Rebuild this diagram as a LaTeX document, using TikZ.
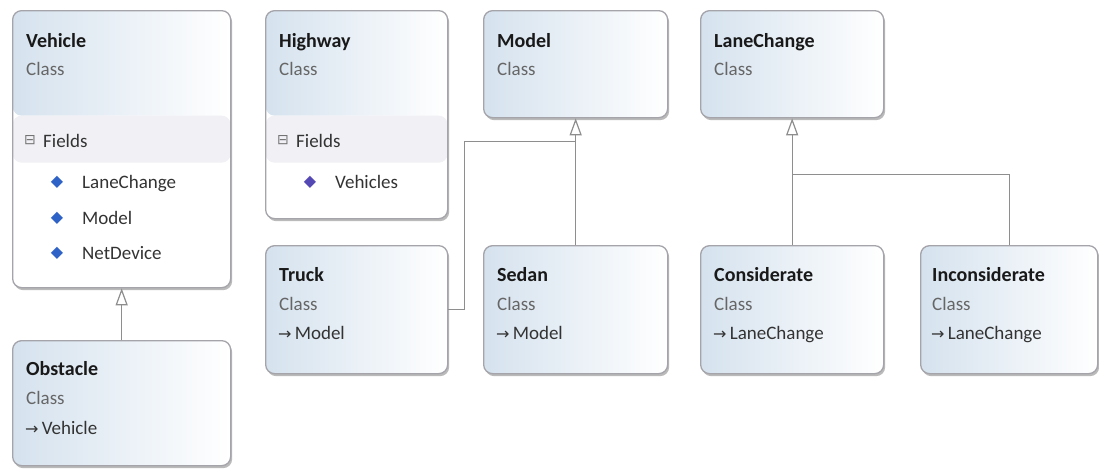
\documentclass[tikz,border=0pt]{standalone}
\usepackage{fontspec}
\setmainfont{Carlito}
\newfontfamily\symfont{DejaVu Sans}
\usepackage{xcolor}
\usepackage{tikz}
\usetikzlibrary{calc,arrows.meta,shadows}

\definecolor{boxline}{HTML}{A4A4AA}
\definecolor{hdrblue}{HTML}{D5E2EE}
\definecolor{hdrlav}{HTML}{EAEAF8}
\definecolor{bandcol}{HTML}{F0F0F5}
\definecolor{conncol}{HTML}{8E8E8E}
\definecolor{gemblue}{HTML}{2E62C6}
\definecolor{gempurple}{HTML}{5448B4}

\begin{document}
\begin{tikzpicture}[
        x=1pt, y=-1pt,
        classbox/.style={draw=boxline, line width=1.3pt, rounded corners=9pt, anchor=north west,
            inner sep=0pt, fill=white,
            drop shadow={shadow xshift=1.5pt, shadow yshift=-2.5pt, fill=black!45, opacity=.6}},
        hdrfull/.style={left color=hdrblue, middle color=hdrlav, right color=white},
        hdrfields/.style={path picture={
            \fill[left color=hdrblue, middle color=hdrlav, right color=white]
                (path picture bounding box.north west) rectangle ([yshift=-105pt]path picture bounding box.north east);
            \fill[bandcol]
                ([yshift=-105pt]path picture bounding box.north west) rectangle ([yshift=-152pt]path picture bounding box.north east);}},
        cname/.style={anchor=base west, inner sep=0pt, font=\fontsize{20}{24}\selectfont\bfseries, text=black!90},
        ckind/.style={anchor=base west, inner sep=0pt, font=\fontsize{19}{22}\selectfont, text=black!60},
        member/.style={anchor=base west, inner sep=0pt, font=\fontsize{19}{22}\selectfont, text=black!80},
        toggle/.style={anchor=center, inner sep=0pt, font=\symfont\fontsize{14}{14}\selectfont, text=black!55},
        gem/.style={anchor=center, inner sep=0pt, font=\symfont\fontsize{16}{16}\selectfont, text=gemblue},
        parentof/.style={anchor=base west, inner sep=0pt, font=\fontsize{19}{22}\selectfont, text=black!80},
        conn/.style={draw=conncol, line width=1.2pt},
        inherit/.style={conn, -{Triangle[open, length=17pt, width=12pt]}}
    ]
        \useasboundingbox (0,0) rectangle (1099,469);

        % class boxes
        \node[classbox, hdrfields, minimum width=218pt, minimum height=277pt] (vehicle) at (12,10) {};
        \node[classbox, hdrfull, minimum width=218pt, minimum height=125pt] (obstacle) at (12,340) {};
        \node[classbox, hdrfields, minimum width=182pt, minimum height=208pt] (highway) at (265,10) {};
        \node[classbox, hdrfull, minimum width=184pt, minimum height=107pt] (model) at (483,10) {};
        \node[classbox, hdrfull, minimum width=182pt, minimum height=128pt] (truck) at (265,245) {};
        \node[classbox, hdrfull, minimum width=184pt, minimum height=128pt] (sedan) at (483,245) {};
        \node[classbox, hdrfull, minimum width=183pt, minimum height=107pt] (lanechange) at (700,10) {};
        \node[classbox, hdrfull, minimum width=183pt, minimum height=128pt] (considerate) at (700,245) {};
        \node[classbox, hdrfull, minimum width=177pt, minimum height=128pt] (inconsiderate) at (920,245) {};

        % Vehicle
        \node[cname] (vehicleName) at ($(vehicle.north west)+(14,37)$) {Vehicle};
        \node[ckind] (vehicleKind) at ($(vehicle.north west)+(14,65)$) {Class};
        \node[toggle] (vehicleTog) at ($(vehicle.north west)+(18,130)$) {⊟};
        \node[member] (vehicleSec) at ($(vehicle.north west)+(31,137)$) {Fields};
        \node[gem] (vehicleG1) at ($(vehicle.north west)+(45,172)$) {◆};
        \node[member] (vehicleF1) at ($(vehicle.north west)+(70,178)$) {LaneChange};
        \node[gem] (vehicleG2) at ($(vehicle.north west)+(45,208)$) {◆};
        \node[member] (vehicleF2) at ($(vehicle.north west)+(70,214)$) {Model};
        \node[gem] (vehicleG3) at ($(vehicle.north west)+(45,243)$) {◆};
        \node[member] (vehicleF3) at ($(vehicle.north west)+(70,249)$) {NetDevice};

        % Obstacle
        \node[cname] (obstacleName) at ($(obstacle.north west)+(14,35)$) {Obstacle};
        \node[ckind] (obstacleKind) at ($(obstacle.north west)+(14,64)$) {Class};
        \node[parentof] (obstacleBase) at ($(obstacle.north west)+(13,94)$) {{\symfont\fontsize{16}{16}\selectfont →}\,Vehicle};

        % Highway
        \node[cname] (highwayName) at ($(highway.north west)+(14,37)$) {Highway};
        \node[ckind] (highwayKind) at ($(highway.north west)+(14,65)$) {Class};
        \node[toggle] (highwayTog) at ($(highway.north west)+(18,130)$) {⊟};
        \node[member] (highwaySec) at ($(highway.north west)+(31,137)$) {Fields};
        \node[gem, text=gempurple] (highwayG1) at ($(highway.north west)+(45,172)$) {◆};
        \node[member] (highwayF1) at ($(highway.north west)+(70,178)$) {Vehicles};

        % Model, Truck, Sedan
        \node[cname] (modelName) at ($(model.north west)+(14,37)$) {Model};
        \node[ckind] (modelKind) at ($(model.north west)+(14,65)$) {Class};
        \node[cname] (truckName) at ($(truck.north west)+(14,36)$) {Truck};
        \node[ckind] (truckKind) at ($(truck.north west)+(14,65)$) {Class};
        \node[parentof] (truckBase) at ($(truck.north west)+(13,94)$) {{\symfont\fontsize{16}{16}\selectfont →}\,Model};
        \node[cname] (sedanName) at ($(sedan.north west)+(14,36)$) {Sedan};
        \node[ckind] (sedanKind) at ($(sedan.north west)+(14,65)$) {Class};
        \node[parentof] (sedanBase) at ($(sedan.north west)+(13,94)$) {{\symfont\fontsize{16}{16}\selectfont →}\,Model};

        % LaneChange, Considerate, Inconsiderate
        \node[cname] (lanechangeName) at ($(lanechange.north west)+(14,37)$) {LaneChange};
        \node[ckind] (lanechangeKind) at ($(lanechange.north west)+(14,65)$) {Class};
        \node[cname] (considerateName) at ($(considerate.north west)+(14,36)$) {Considerate};
        \node[ckind] (considerateKind) at ($(considerate.north west)+(14,65)$) {Class};
        \node[parentof] (considerateBase) at ($(considerate.north west)+(13,94)$) {{\symfont\fontsize{16}{16}\selectfont →}\,LaneChange};
        \node[cname] (inconsiderateName) at ($(inconsiderate.north west)+(12,36)$) {Inconsiderate};
        \node[ckind] (inconsiderateKind) at ($(inconsiderate.north west)+(12,65)$) {Class};
        \node[parentof] (inconsiderateBase) at ($(inconsiderate.north west)+(11,94)$) {{\symfont\fontsize{16}{16}\selectfont →}\,LaneChange};

        % inheritance
        \coordinate (modeljoin) at ($(model.south)+(0,23)$);
        \coordinate (lanejoin) at ($(lanechange.south)+(0,56)$);
        \draw[inherit] (obstacle.north) -- (vehicle.south);
        \draw[inherit] (sedan.north) -- (model.south);
        \draw[conn] (truck.east) -- ++(16,0) |- (modeljoin);
        \draw[inherit] (considerate.north) -- (lanechange.south);
        \draw[conn] (inconsiderate.north) |- (lanejoin);
    \end{tikzpicture}
\end{document}
